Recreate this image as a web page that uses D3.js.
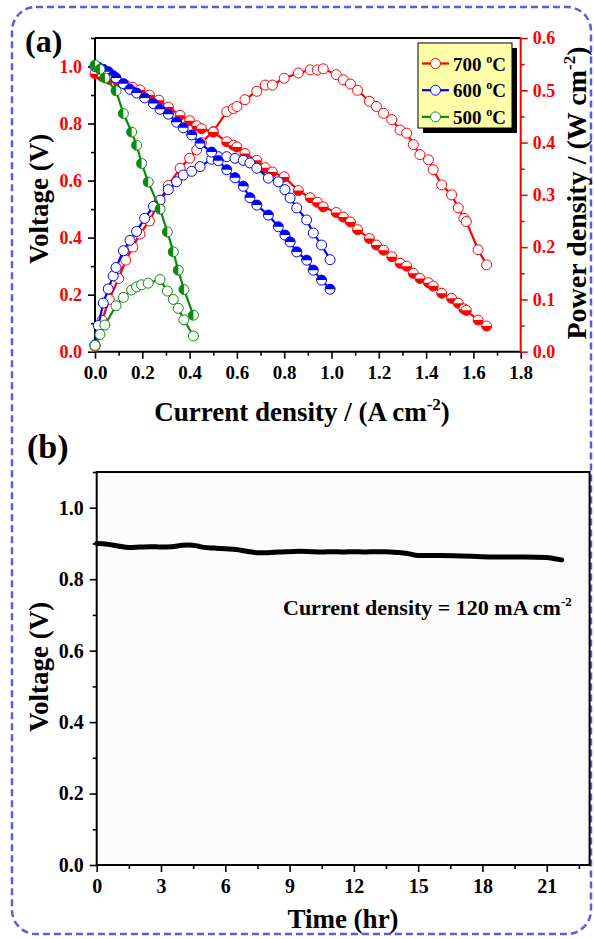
<!DOCTYPE html>
<html><head><meta charset="utf-8">
<script src="https://cdn.jsdelivr.net/npm/d3@7"></script>
<style>
body{margin:0;background:#fff;}
svg{display:block;}
text{font-family:"Liberation Serif","Times New Roman",serif;font-weight:bold;}
</style></head><body>
<svg id="c" width="594" height="939"></svg>
<script>
// ---------- data: panel (a) ----------
const I700 = [0, 0.03, 0.06, 0.10, 0.13, 0.16, 0.19, 0.23, 0.27, 0.31, 0.36, 0.40, 0.43, 0.45, 0.50, 0.557, 0.585, 0.60, 0.634, 0.684, 0.72, 0.75, 0.80, 0.86, 0.91, 0.94, 0.965, 1.02, 1.05, 1.08, 1.11, 1.16, 1.19, 1.22, 1.255, 1.29, 1.318, 1.346, 1.374, 1.41, 1.43, 1.466, 1.508, 1.536, 1.56, 1.57, 1.62, 1.656];
const V700 = [0.975, 0.965, 0.955, 0.942, 0.935, 0.927, 0.918, 0.900, 0.882, 0.858, 0.829, 0.810, 0.792, 0.782, 0.770, 0.736, 0.724, 0.718, 0.695, 0.671, 0.645, 0.630, 0.613, 0.565, 0.540, 0.524, 0.508, 0.488, 0.472, 0.455, 0.428, 0.397, 0.374, 0.356, 0.333, 0.310, 0.300, 0.275, 0.257, 0.242, 0.230, 0.205, 0.187, 0.170, 0.150, 0.145, 0.111, 0.090];
const P700 = [0.010, 0.060, 0.100, 0.140, 0.175, 0.200, 0.225, 0.250, 0.285, 0.318, 0.351, 0.370, 0.386, 0.400, 0.421, 0.459, 0.465, 0.469, 0.482, 0.498, 0.510, 0.510, 0.523, 0.533, 0.539, 0.539, 0.541, 0.530, 0.520, 0.512, 0.500, 0.479, 0.469, 0.456, 0.444, 0.424, 0.418, 0.396, 0.377, 0.367, 0.348, 0.319, 0.300, 0.275, 0.255, 0.249, 0.195, 0.166];

const I600 = [0.000, 0.014, 0.035, 0.056, 0.077, 0.089, 0.120, 0.148, 0.176, 0.210, 0.247, 0.275, 0.310, 0.345, 0.373, 0.409, 0.444, 0.493, 0.521, 0.557, 0.592, 0.627, 0.655, 0.684, 0.733, 0.775, 0.803, 0.825, 0.853, 0.895, 0.923, 0.958, 0.994];
const V600 = [1.000, 0.998, 0.990, 0.982, 0.968, 0.960, 0.940, 0.920, 0.907, 0.890, 0.870, 0.850, 0.833, 0.805, 0.785, 0.760, 0.730, 0.700, 0.670, 0.638, 0.610, 0.580, 0.540, 0.514, 0.479, 0.438, 0.409, 0.385, 0.350, 0.321, 0.286, 0.251, 0.219];
const P600 = [0.013, 0.050, 0.093, 0.120, 0.145, 0.161, 0.193, 0.213, 0.230, 0.255, 0.278, 0.290, 0.310, 0.325, 0.338, 0.345, 0.354, 0.368, 0.373, 0.373, 0.370, 0.366, 0.361, 0.351, 0.332, 0.325, 0.310, 0.294, 0.275, 0.252, 0.227, 0.204, 0.176];

const I500 = [0.000, 0.021, 0.042, 0.089, 0.120, 0.155, 0.176, 0.197, 0.225, 0.275, 0.306, 0.331, 0.352, 0.376, 0.416];
const V500 = [1.005, 0.990, 0.960, 0.915, 0.835, 0.770, 0.724, 0.660, 0.595, 0.500, 0.420, 0.350, 0.286, 0.218, 0.128];
const P500 = [0.012, 0.033, 0.051, 0.088, 0.104, 0.118, 0.124, 0.128, 0.131, 0.138, 0.116, 0.100, 0.083, 0.061, 0.030];

const legendLabels = ["700", "600", "500"];
const xTicksA = [0, 0.2, 0.4, 0.6, 0.8, 1.0, 1.2, 1.4, 1.6, 1.8];
const vTicksA = [0, 0.2, 0.4, 0.6, 0.8, 1.0];
const pTicksA = [0, 0.1, 0.2, 0.3, 0.4, 0.5, 0.6];

// ---------- data: panel (b) ----------
const T = [0, 0.5, 1.0, 1.5, 2.0, 2.5, 3.0, 3.5, 4.0, 4.3, 4.7, 5.0, 5.5, 6.0, 6.5, 7.0, 7.5, 8.0, 8.5, 9.0, 9.5, 10.0, 10.5, 11.0, 11.5, 12.0, 12.5, 13.0, 13.5, 14.0, 14.5, 15.0, 15.5, 16.0, 17.0, 18.0, 19.0, 20.0, 21.0, 21.3, 21.7];
const VT = [0.900, 0.898, 0.893, 0.889, 0.890, 0.891, 0.890, 0.891, 0.895, 0.896, 0.893, 0.889, 0.887, 0.885, 0.883, 0.878, 0.874, 0.874, 0.876, 0.877, 0.878, 0.877, 0.876, 0.877, 0.876, 0.877, 0.876, 0.877, 0.877, 0.875, 0.872, 0.866, 0.866, 0.866, 0.865, 0.863, 0.862, 0.862, 0.861, 0.858, 0.854];
const tTicksB = [0, 3, 6, 9, 12, 15, 18, 21];
const vTicksB = [0, 0.2, 0.4, 0.6, 0.8, 1.0];

// ---------- setup ----------
const svg = d3.select("#c");
const RED = "#ff0000", BLUE = "#0000ff", GREEN = "#0b8a12";

svg.append("rect").attr("x", 12).attr("y", 7).attr("width", 579).attr("height", 927)
  .attr("rx", 24).attr("fill", "none").attr("stroke", "#5d5ddb").attr("stroke-width", 2.5)
  .attr("stroke-dasharray", "7,4");

// panel (a) geometry
const A = {l: 95, r: 520.7, t: 38, b: 351.7};
const x = d3.scaleLinear().domain([0, 1.8]).range([A.l, A.r]);
const yV = d3.scaleLinear().domain([0, 1.1]).range([A.b, A.t]);
const yP = d3.scaleLinear().domain([0, 0.6]).range([A.b, A.t]);

function styleAxis(g, color, fs, labelColor) {
  g.select(".domain").remove();
  g.selectAll(".tick line").attr("stroke", color).attr("stroke-width", 1.6);
  g.selectAll(".tick text").attr("fill", labelColor).attr("font-size", fs)
    .attr("font-family", "Liberation Serif, serif").attr("font-weight", "bold");
}
function minor(vals, major) { return vals.filter(v => !major.some(m => Math.abs(m - v) < 1e-9)); }
const rng = (a, b, s) => { const o = []; for (let v = a; v <= b + 1e-9; v += s) o.push(+v.toFixed(4)); return o; };

// axes (a)
const gxA = svg.append("g").attr("transform", `translate(0,${A.b})`)
  .call(d3.axisBottom(x).tickValues(xTicksA).tickSize(7).tickPadding(7).tickFormat(d3.format(".1f")));
styleAxis(gxA, "#000", 19, "#000");
const gxAm = svg.append("g").attr("transform", `translate(0,${A.b})`)
  .call(d3.axisBottom(x).tickValues(minor(rng(0, 1.8, 0.1), xTicksA)).tickSize(4).tickFormat(""));
styleAxis(gxAm, "#000", 19, "#000");

const gyA = svg.append("g").attr("transform", `translate(${A.l},0)`)
  .call(d3.axisLeft(yV).tickValues(vTicksA).tickSize(7).tickPadding(6).tickFormat(d3.format(".1f")));
styleAxis(gyA, "#000", 18, RED);
const gyAm = svg.append("g").attr("transform", `translate(${A.l},0)`)
  .call(d3.axisLeft(yV).tickValues(minor(rng(0, 1.1, 0.1), vTicksA)).tickSize(4).tickFormat(""));
styleAxis(gyAm, "#000", 18, RED);

const gpA = svg.append("g").attr("transform", `translate(${A.r},0)`)
  .call(d3.axisRight(yP).tickValues(pTicksA).tickSize(7).tickPadding(5).tickFormat(d3.format(".1f")));
styleAxis(gpA, RED, 18, RED);
const gpAm = svg.append("g").attr("transform", `translate(${A.r},0)`)
  .call(d3.axisRight(yP).tickValues(minor(rng(0, 0.6, 0.05), pTicksA)).tickSize(4).tickFormat(""));
styleAxis(gpAm, RED, 18, RED);

// frame (a)
svg.append("line").attr("x1", A.l).attr("x2", A.r).attr("y1", A.t).attr("y2", A.t).attr("stroke", "#000").attr("stroke-width", 2);
svg.append("line").attr("x1", A.l).attr("x2", A.r).attr("y1", A.b).attr("y2", A.b).attr("stroke", "#000").attr("stroke-width", 2);
svg.append("line").attr("x1", A.l).attr("x2", A.l).attr("y1", A.t).attr("y2", A.b).attr("stroke", "#000").attr("stroke-width", 2);
svg.append("line").attr("x1", A.r).attr("x2", A.r).attr("y1", A.t).attr("y2", A.b).attr("stroke", RED).attr("stroke-width", 2);

// series
const R = 5;
function halfPath(type) {
  if (type === "top") return `M${-R},0 A${R},${R} 0 0,1 ${R},0 Z`;
  if (type === "bottom") return `M${-R},0 A${R},${R} 0 0,0 ${R},0 Z`;
  if (type === "left") return `M0,${-R} A${R},${R} 0 0,0 0,${R} Z`;
  return "";
}
function series(I, Y, ys, color, half) {
  const g = svg.append("g");
  const data = I.map((d, i) => ({i: d, v: Y[i]}));
  g.append("path").datum(data)
    .attr("d", d3.line().x(d => x(d.i)).y(d => ys(d.v)))
    .attr("fill", "none").attr("stroke", color).attr("stroke-width", 2.2);
  const m = g.selectAll("g.m").data(data).enter().append("g").attr("class", "m")
    .attr("transform", d => `translate(${x(d.i)},${ys(d.v)})`);
  m.append("circle").attr("r", R).attr("fill", "#fff").attr("stroke", color).attr("stroke-width", 1);
  if (half) m.append("path").attr("d", halfPath(half)).attr("fill", color);
}
series(I700, P700, yP, RED, null);
series(I700, V700, yV, RED, "bottom");
series(I600, P600, yP, BLUE, null);
series(I600, V600, yV, BLUE, "top");
series(I500, P500, yP, GREEN, null);
series(I500, V500, yV, GREEN, "left");

// legend
const L = {x: 418, y: 43, w: 94, h: 85};
svg.append("rect").attr("x", L.x + 5).attr("y", L.y + 5).attr("width", L.w).attr("height", L.h).attr("fill", "#000");
svg.append("rect").attr("x", L.x).attr("y", L.y).attr("width", L.w).attr("height", L.h).attr("fill", "#ffffa8").attr("stroke", "#000").attr("stroke-width", 1);
[RED, BLUE, GREEN].forEach((c, k) => {
  const yy = 63.5 + k * 26.7;
  svg.append("line").attr("x1", 422).attr("x2", 449).attr("y1", yy).attr("y2", yy).attr("stroke", c).attr("stroke-width", 2.2);
  svg.append("circle").attr("cx", 435.5).attr("cy", yy).attr("r", R).attr("fill", "#fff").attr("stroke", c).attr("stroke-width", 1);
  const t = svg.append("text").attr("x", 453).attr("y", yy + 7).attr("font-size", 19).attr("fill", "#000");
  t.append("tspan").text(legendLabels[k] + " ");
  t.append("tspan").attr("font-size", 12).attr("dy", -8).text("o");
  t.append("tspan").attr("dy", 8).text("C");
});

// titles (a)
svg.append("text").attr("x", 25).attr("y", 52).attr("font-size", 32).text("(a)");
svg.append("text").attr("transform", "translate(48,199) rotate(-90)").attr("text-anchor", "middle").attr("font-size", 27).text("Voltage (V)");
{
  const t = svg.append("text").attr("x", 302).attr("y", 421).attr("text-anchor", "middle").attr("font-size", 27);
  t.append("tspan").text("Current density / (A cm");
  t.append("tspan").attr("font-size", 17).attr("dy", -11).text("-2");
  t.append("tspan").attr("dy", 11).text(")");
}
{
  const t = svg.append("text").attr("transform", "translate(586,193) rotate(-90)").attr("text-anchor", "middle").attr("font-size", 28);
  t.append("tspan").text("Power density / (W cm");
  t.append("tspan").attr("font-size", 17).attr("dy", -11).text("-2");
  t.append("tspan").attr("dy", 11).text(")");
}

// ---------- panel (b) ----------
const B = {l: 96.7, r: 589.6, t: 472, b: 865};
const xB = d3.scaleLinear().domain([0, 23]).range([B.l, B.r]);
const yB = d3.scaleLinear().domain([0, 1.1]).range([B.b, B.t]);

svg.append("rect").attr("x", B.l).attr("y", B.t).attr("width", B.r - B.l).attr("height", B.b - B.t).attr("fill", "#fbfbfb");

const gxB = svg.append("g").attr("transform", `translate(0,${B.b})`)
  .call(d3.axisBottom(xB).tickValues(tTicksB).tickSize(7).tickPadding(7).tickFormat(d3.format("d")));
styleAxis(gxB, "#000", 20, "#000");
const gxBm = svg.append("g").attr("transform", `translate(0,${B.b})`)
  .call(d3.axisBottom(xB).tickValues(minor(rng(0, 22.5, 1.5), tTicksB)).tickSize(4).tickFormat(""));
styleAxis(gxBm, "#000", 20, "#000");
const gyB = svg.append("g").attr("transform", `translate(${B.l},0)`)
  .call(d3.axisLeft(yB).tickValues(vTicksB).tickSize(7).tickPadding(6).tickFormat(d3.format(".1f")));
styleAxis(gyB, "#000", 20, "#000");
const gyBm = svg.append("g").attr("transform", `translate(${B.l},0)`)
  .call(d3.axisLeft(yB).tickValues(minor(rng(0, 1.1, 0.1), vTicksB)).tickSize(4).tickFormat(""));
styleAxis(gyBm, "#000", 20, "#000");

svg.append("rect").attr("x", B.l).attr("y", B.t).attr("width", B.r - B.l).attr("height", B.b - B.t)
  .attr("fill", "none").attr("stroke", "#000").attr("stroke-width", 2);

svg.append("path").datum(T.map((t, i) => [t, VT[i]]))
  .attr("d", d3.line().x(d => xB(d[0])).y(d => yB(d[1])).curve(d3.curveMonotoneX))
  .attr("fill", "none").attr("stroke", "#000").attr("stroke-width", 5).attr("stroke-linecap", "round");

{
  const t = svg.append("text").attr("x", 283).attr("y", 615).attr("font-size", 22);
  t.append("tspan").text("Current density = 120 mA cm");
  t.append("tspan").attr("font-size", 13).attr("dy", -9).text("-2");
}

svg.append("text").attr("x", 27).attr("y", 458).attr("font-size", 34).text("(b)");
svg.append("text").attr("transform", "translate(48,667) rotate(-90)").attr("text-anchor", "middle").attr("font-size", 27).text("Voltage (V)");
svg.append("text").attr("x", 343).attr("y", 928).attr("text-anchor", "middle").attr("font-size", 27).text("Time (hr)");
</script>
</body></html>
